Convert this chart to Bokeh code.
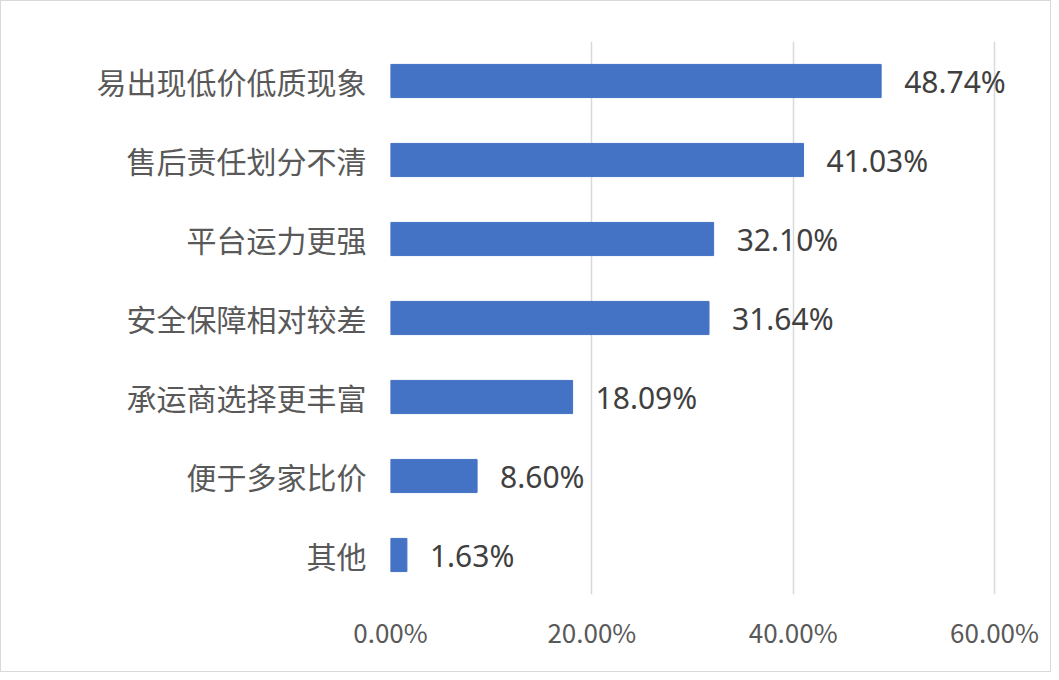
from bokeh.plotting import figure
from bokeh.models import ColumnDataSource, Range1d, FixedTicker, LabelSet
from bokeh.core.properties import value
from bokeh.embed import file_html
from bokeh.resources import INLINE

categories = ["易出现低价低质现象", "售后责任划分不清", "平台运力更强", "安全保障相对较差",
              "承运商选择更丰富", "便于多家比价", "其他"]
values = [48.74, 41.03, 32.10, 31.64, 18.09, 8.60, 1.63]
tick_values = [0, 20, 40, 60]
tick_labels = ["0.00%", "20.00%", "40.00%", "60.00%"]

labels = [f"{v:.2f}%" for v in values]
src = ColumnDataSource(dict(cat=categories, val=values, lab=labels))

# frame spans to the right edge so value labels are not clipped; 60% sits at 604 px
x_end = 60 * (1051 - 389) / 604

p = figure(width=1051, height=672, y_range=list(reversed(categories)),
           x_range=Range1d(0, x_end), output_backend="svg", toolbar_location=None,
           min_border_left=389, min_border_right=0, min_border_top=40, min_border_bottom=79)
p.styles = {"border": "1px solid #d9d9d9"}
p.outline_line_color = None
p.background_fill_color = "white"

p.hbar(y="cat", right="val", left=0, height=0.42, color="#4472C4", source=src)
p.add_layout(LabelSet(x="val", y="cat", text="lab", source=src, x_offset=23,
                      text_baseline="middle", text_align="left", text_font=value("Noto Sans"),
                      text_font_size="30px", text_color="#404040"))

p.xaxis.ticker = FixedTicker(ticks=tick_values)
p.xaxis.major_label_overrides = {t: l for t, l in zip(tick_values, tick_labels)}
p.xaxis.axis_line_color = None
p.xaxis.major_tick_line_color = None
p.xaxis.minor_tick_line_color = None
p.xaxis.major_label_text_font = "Noto Sans CJK SC"
p.xaxis.major_label_text_font_size = "26px"
p.xaxis.major_label_text_color = "#595959"
p.xaxis.major_label_standoff = 12

p.yaxis.axis_line_color = None
p.yaxis.major_tick_line_color = None
p.yaxis.minor_tick_line_color = None
p.yaxis.major_label_text_font = "Noto Sans CJK SC"
p.yaxis.major_label_text_font_size = "30px"
p.yaxis.major_label_text_color = "#595959"
p.yaxis.major_label_standoff = 18

p.xgrid.grid_line_color = "#d9d9d9"
p.xgrid.grid_line_width = 1.5
p.ygrid.grid_line_color = None

open("out.html", "w").write(file_html(p, INLINE))
